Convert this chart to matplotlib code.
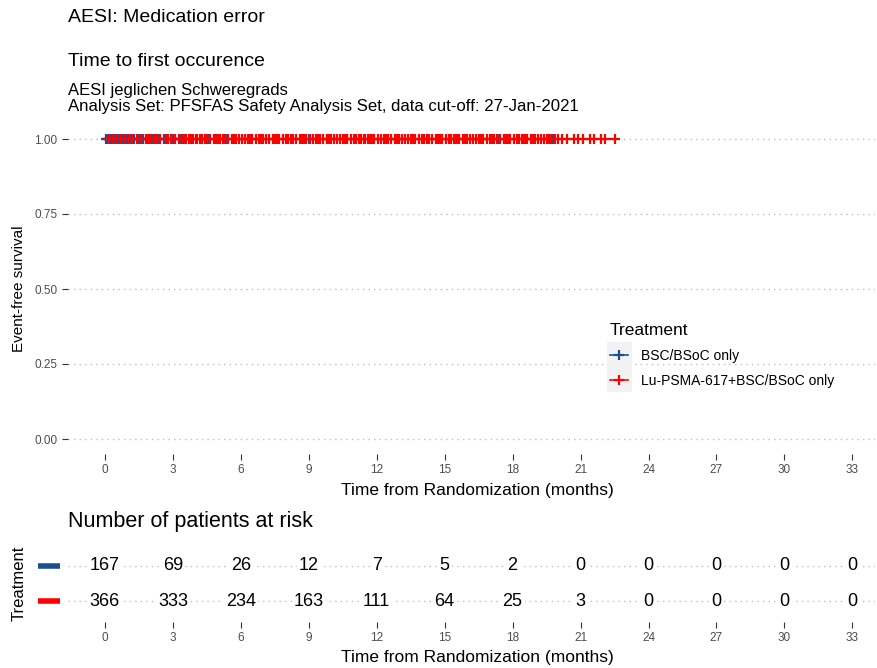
import matplotlib
matplotlib.use("Agg")
import matplotlib.pyplot as plt
from matplotlib.lines import Line2D
from matplotlib.patches import Rectangle
import matplotlib.transforms as mtransforms

plt.rcParams['font.family'] = ['Liberation Sans', 'DejaVu Sans']

# censoring times (months), nobody had an event -> survival stays at 1
blue_cens = [0.05, 0.1, 0.15, 0.2, 0.25, 0.3, 0.35, 0.4, 0.5, 0.55, 0.6, 0.7, 0.75,
             0.8, 0.9, 0.95, 1.0, 1.1, 1.15, 1.2, 1.3, 1.4, 1.5, 1.55, 1.6, 1.7,
             1.8, 1.9, 2.0, 2.1, 2.2, 2.4, 2.6, 2.8, 3.0, 3.1, 3.3, 3.5, 3.8, 4.0,
             4.3, 4.6, 5.0, 5.4, 5.8, 6.3, 6.9, 7.5, 8.2, 9.0, 9.8, 10.7, 11.5,
             13.0, 14.2, 15.6, 16.5, 17.4, 18.6, 19.8]
red_cens = [0.2, 0.35, 0.5, 0.7, 0.9, 1.05, 1.2, 1.4, 1.6, 1.8, 1.95, 2.0, 2.15,
            2.3, 2.45, 2.7, 2.8, 2.9, 3.05, 3.1, 3.25, 3.4, 3.5, 3.6, 3.7, 3.8,
            3.9, 4.05, 4.2, 4.3, 4.4, 4.5, 4.65, 4.8, 4.9, 5.0, 5.1, 5.2, 5.3,
            5.45, 5.6, 5.7, 5.8, 5.9, 6.05, 6.2, 6.3, 6.4, 6.5, 6.65, 6.8, 6.9,
            7.0, 7.1, 7.25, 7.4, 7.5, 7.6, 7.7, 7.85, 8.0, 8.1, 8.2, 8.3, 8.45,
            8.6, 8.7, 8.8, 8.9, 9.05, 9.2, 9.3, 9.4, 9.5, 9.65, 9.8, 9.9, 10.0,
            10.1, 10.25, 10.4, 10.5, 10.6, 10.7, 10.85, 11.0, 11.1, 11.2, 11.3,
            11.45, 11.6, 11.7, 11.8, 11.9, 12.05, 12.2, 12.3, 12.4, 12.5, 12.65,
            12.8, 12.9, 13.0, 13.1, 13.25, 13.4, 13.5, 13.6, 13.7, 13.85, 14.0,
            14.1, 14.2, 14.3, 14.45, 14.6, 14.7, 14.8, 14.9, 15.05, 15.2, 15.3,
            15.4, 15.5, 15.65, 15.8, 15.9, 16.0, 16.1, 16.25, 16.4, 16.5, 16.6,
            16.7, 16.85, 17.0, 17.1, 17.2, 17.3, 17.45, 17.6, 17.7, 17.8, 17.9,
            18.05, 18.2, 18.3, 18.4, 18.5, 18.65, 18.8, 18.9, 19.0, 19.1, 19.25,
            19.4, 19.5, 19.6, 19.7, 19.85, 20.0, 20.2, 20.4, 20.7, 20.9, 21.1,
            21.4, 21.6, 21.9, 22.1, 22.5]

groups = ['BSC/BSoC only', 'Lu-PSMA-617+BSC/BSoC only']
colors = ['#1B4F93', '#FF0000']
risk_times = [0, 3, 6, 9, 12, 15, 18, 21, 24, 27, 30, 33]
risk_blue = [167, 69, 26, 12, 7, 5, 2, 0, 0, 0, 0, 0]
risk_red = [366, 333, 234, 163, 111, 64, 25, 3, 0, 0, 0, 0]
y_ticks = [0.00, 0.25, 0.50, 0.75, 1.00]

W, H = 878, 668
fig = plt.figure(figsize=(8.78, 6.68), dpi=100)

def box(l, r, t, b):
    return [l / W, 1 - b / H, (r - l) / W, (b - t) / H]

grey = '#4D4D4D'
xlim = (-1.63, 34.0)

# ---- KM panel
ax = fig.add_axes(box(68, 875, 124, 454))
for i, cens in enumerate([blue_cens, red_cens]):
    ax.step([0, max(cens)], [1, 1], where='post', color=colors[i], lw=1.2)
    ax.plot(cens, [1] * len(cens), ls='none', marker='+', ms=7, mew=1.6,
            color=colors[i])
ax.set_xlim(xlim)
ax.set_ylim(-0.05, 1.05)
ax.set_yticks(y_ticks)
ax.set_yticklabels(['%.2f' % v for v in y_ticks])
ax.set_xticks(risk_times)
for v in y_ticks:
    ax.axhline(v, color='#BEBEBE', lw=1, ls=(0, (1, 3)), zorder=0)
for s in ax.spines.values():
    s.set_visible(False)
ax.tick_params(colors='#333333', labelcolor=grey, labelsize=8.5, length=4)
ax.set_xlabel('Time from Randomization (months)', fontsize=12.5)
ax.xaxis.set_label_coords((477 - 68) / 807, -(483 - 454) / 330)
ax.set_ylabel('Event-free survival', fontsize=11, labelpad=6)

# legend
ax.add_patch(Rectangle((607 / W, 1 - 392 / H), 25 / W, 50 / H,
                       transform=fig.transFigure, facecolor='#F2F2F2',
                       edgecolor='none', clip_on=False, zorder=0))
handles = [Line2D([], [], color=c, lw=1.2, marker='+', ms=7, mew=1.6) for c in colors]
leg = ax.legend(handles, groups, title='Treatment', loc='upper left',
                bbox_to_anchor=((597 - 68) / 807, (454 - 310) / 330),
                frameon=False, fontsize=10, title_fontsize=12.5,
                handlelength=1.3, handletextpad=1.0, labelspacing=0.8)
leg._legend_box.align = 'left'

# titles
fig.text(68 / W, 1 - 18 / H, 'AESI: Medication error', fontsize=14, va='center')
fig.text(68 / W, 1 - 62 / H, 'Time to first occurence', fontsize=14, va='center')
fig.text(68 / W, 1 - 90 / H, 'AESI jeglichen Schweregrads', fontsize=12, va='center')
fig.text(68 / W, 1 - 107 / H, 'Analysis Set: PFSFAS Safety Analysis Set, data cut-off: 27-Jan-2021',
         fontsize=12.1, va='center')
fig.text(68 / W, 1 - 522 / H, 'Number of patients at risk', fontsize=15.5, va='center')

# ---- risk table
rt = fig.add_axes(box(68, 875, 545, 622))
rt.set_xlim(xlim)
rt.set_ylim(0.4, 2.6)
for row, vals in [(2, risk_blue), (1, risk_red)]:
    rt.axhline(row, color='#BEBEBE', lw=1, ls=(0, (1, 3)), zorder=0)
    for t, n in zip(risk_times, vals):
        rt.text(t, row, str(n), ha='center', va='center', fontsize=13,
                bbox=dict(facecolor='white', edgecolor='none', pad=1.5))
trans = mtransforms.blended_transform_factory(rt.transAxes, rt.transData)
for row, c in [(2, colors[0]), (1, colors[1])]:
    rt.plot([-0.037, -0.01], [row, row], color=c, lw=4, transform=trans,
            clip_on=False, solid_capstyle='butt')
rt.set_yticks([])
rt.set_xticks(risk_times)
for s in rt.spines.values():
    s.set_visible(False)
rt.tick_params(colors='#333333', labelcolor=grey, labelsize=8.5, length=4)
rt.set_xlabel('Time from Randomization (months)', fontsize=12.5)
rt.xaxis.set_label_coords((477 - 68) / 807, -(650 - 622) / 77)
rt.set_ylabel('Treatment', fontsize=12, labelpad=30)

fig.savefig('out.png', dpi=100)
